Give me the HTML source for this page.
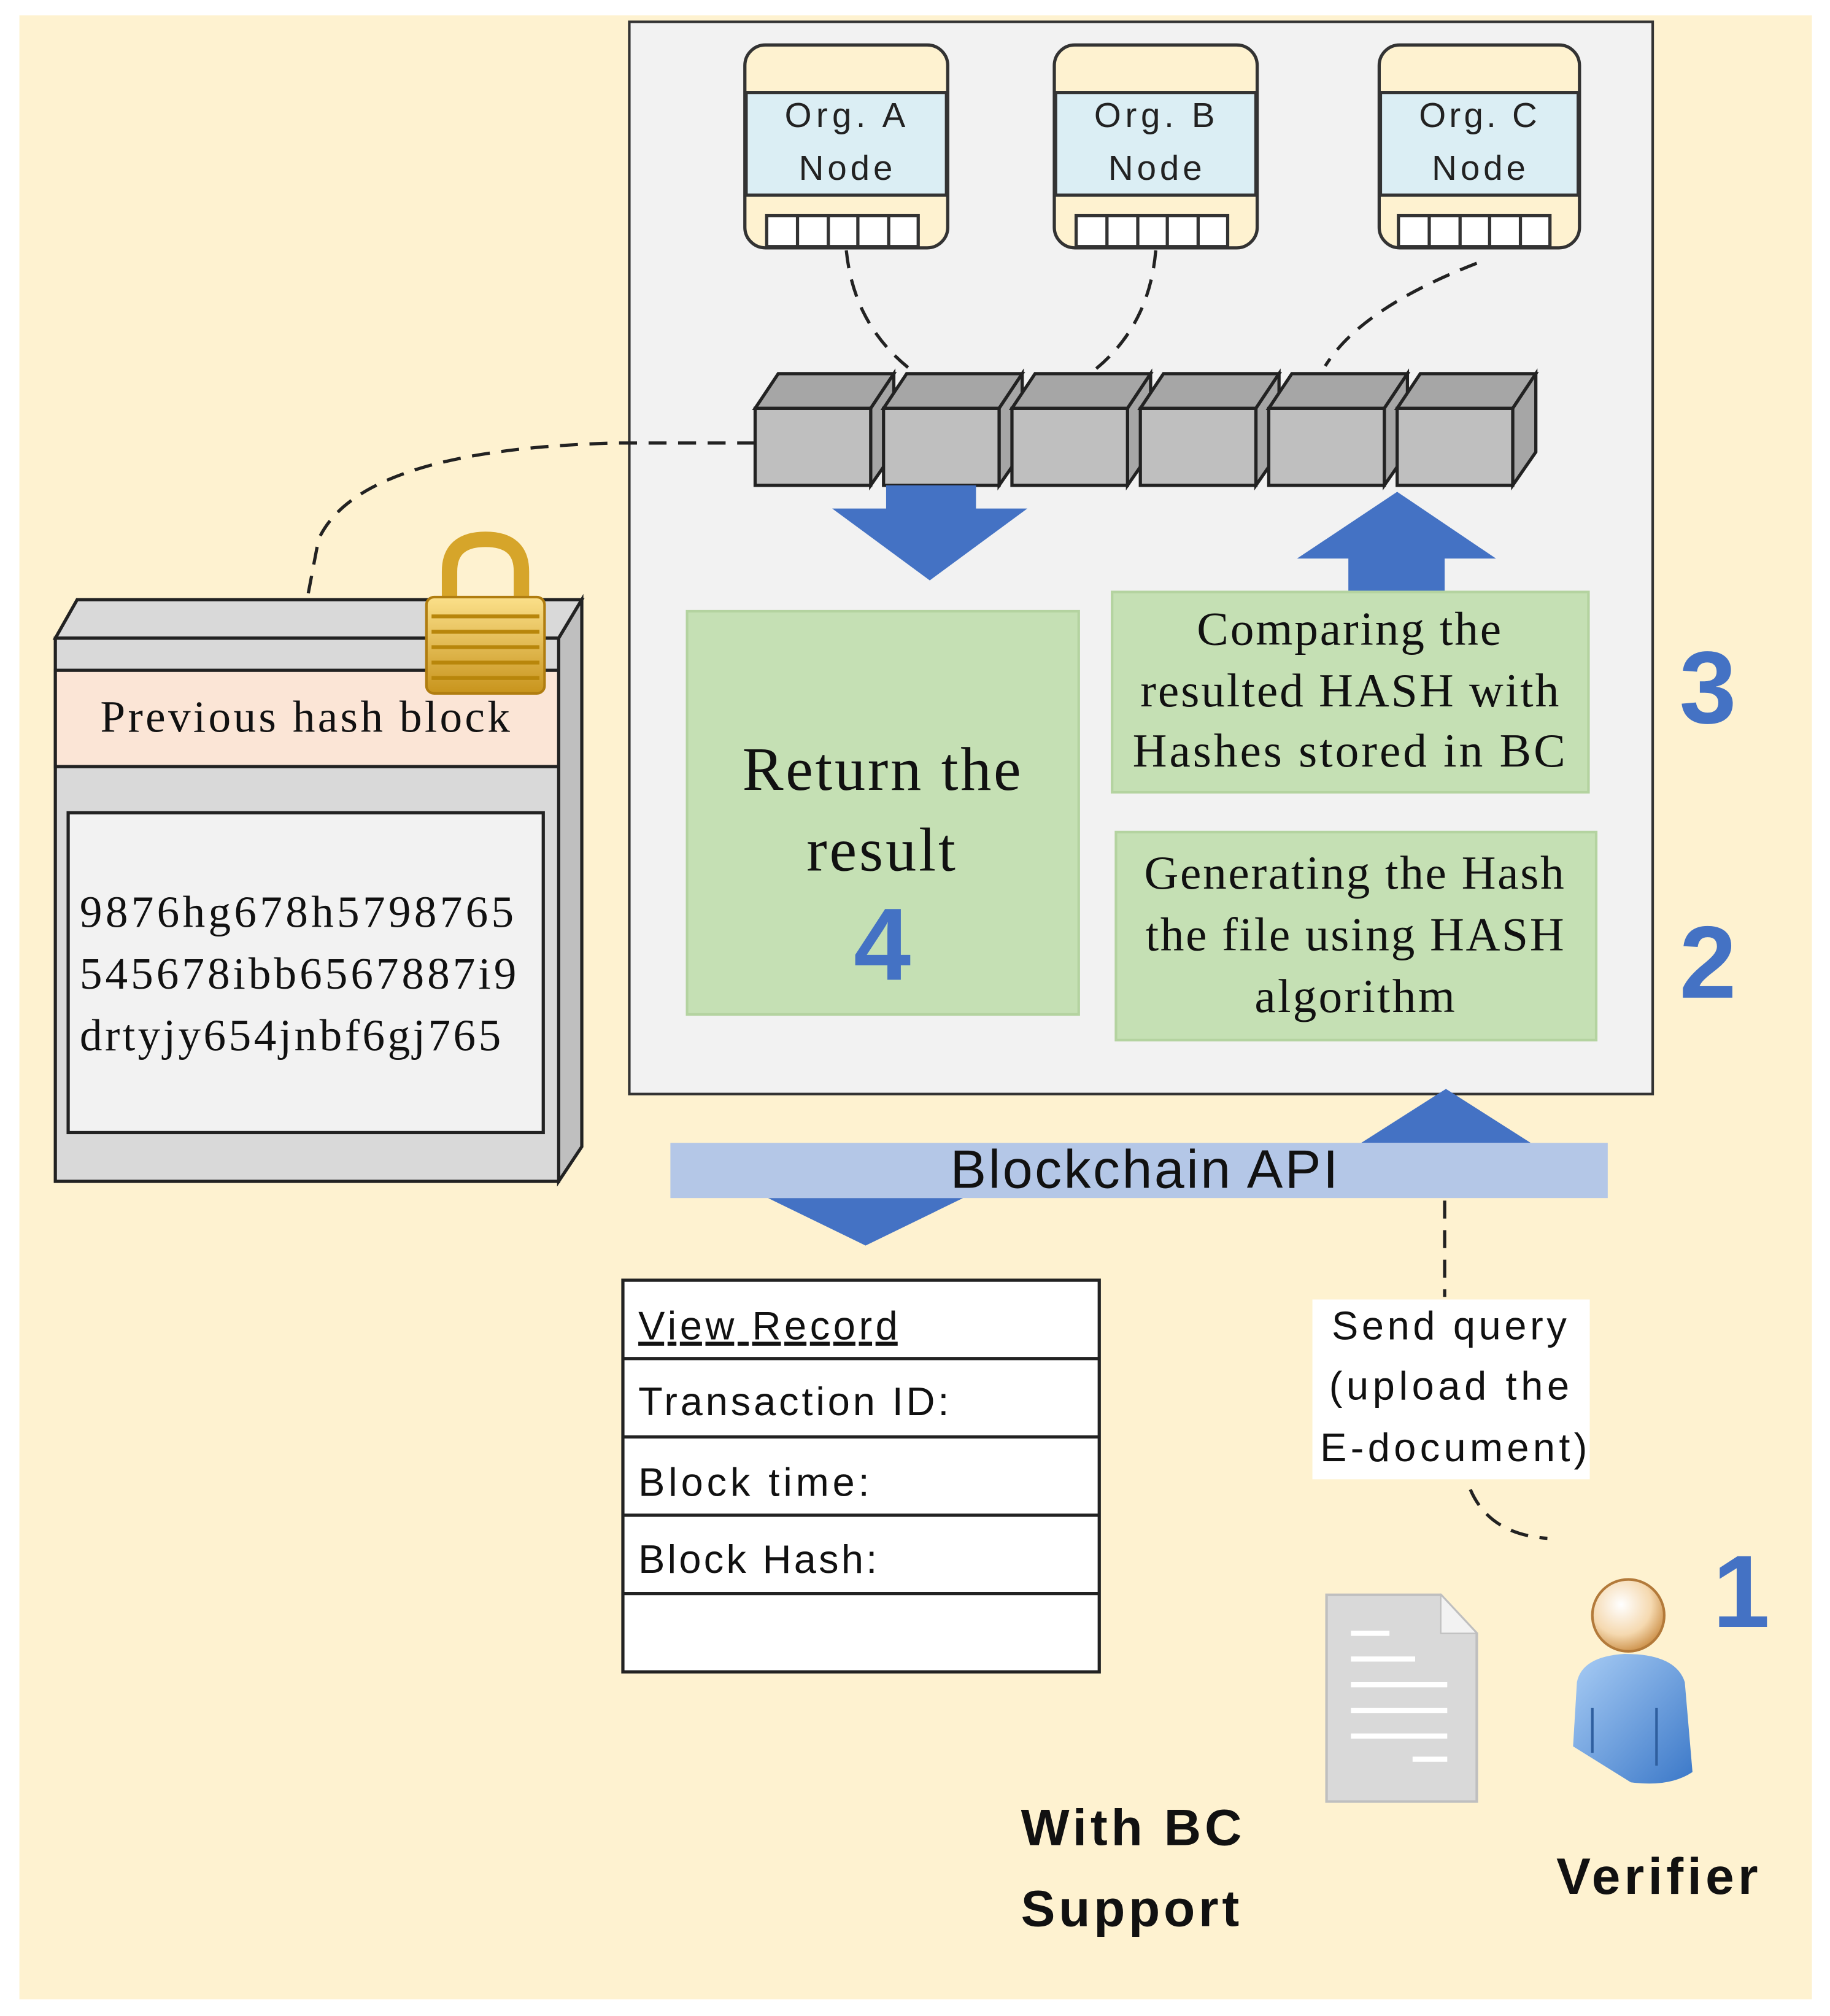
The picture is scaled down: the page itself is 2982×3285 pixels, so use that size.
<!DOCTYPE html>
<html><head><meta charset="utf-8"><style>
html,body{margin:0;padding:0;background:#fff;}
svg{display:block;}
text{font-family:"Liberation Sans",sans-serif;}
.serif{font-family:"Liberation Serif",serif;}
</style></head><body>
<svg width="2982" height="3285" viewBox="0 0 1425 1570" xmlns="http://www.w3.org/2000/svg">
<rect x="0" y="0" width="1425" height="1570" fill="#fff"/>
<rect x="15" y="12" width="1396" height="1545" fill="#fef2d0"/>

<rect x="490" y="17" width="797" height="835" fill="#f2f2f2" stroke="#333" stroke-width="2"/>

<g stroke="#333" stroke-width="2.5">
 <g>
  <rect x="580" y="35" width="158" height="158" rx="16" fill="#fef2d0"/>
  <rect x="581" y="72" width="156" height="80" fill="#dbeef4"/>
  <rect x="597" y="168" width="118" height="24" fill="#fff"/>
  <path d="M621 168v24M645 168v24M668 168v24M692 168v24" fill="none"/>
 </g>
 <g transform="translate(241,0)">
  <rect x="580" y="35" width="158" height="158" rx="16" fill="#fef2d0"/>
  <rect x="581" y="72" width="156" height="80" fill="#dbeef4"/>
  <rect x="597" y="168" width="118" height="24" fill="#fff"/>
  <path d="M621 168v24M645 168v24M668 168v24M692 168v24" fill="none"/>
 </g>
 <g transform="translate(494,0)">
  <rect x="580" y="35" width="156" height="158" rx="16" fill="#fef2d0"/>
  <rect x="581" y="72" width="154" height="80" fill="#dbeef4"/>
  <rect x="595" y="168" width="118" height="24" fill="#fff"/>
  <path d="M619 168v24M643 168v24M666 168v24M690 168v24" fill="none"/>
 </g>
</g>
<g font-size="27" fill="#222">
 <text x="611" y="99" textLength="94">Org.  A</text><text x="622" y="140" textLength="73">Node</text>
 <text x="852" y="99" textLength="94">Org.  B</text><text x="863" y="140" textLength="73">Node</text>
 <text x="1105" y="99" textLength="92">Org.  C</text><text x="1115" y="140" textLength="73">Node</text>
</g>

<g fill="none" stroke="#222" stroke-width="2.5" stroke-dasharray="14,9">
 <path d="M659 195 Q665 255 712 290"/>
 <path d="M900 195 Q895 255 850 290"/>
 <path d="M1150 205 Q1060 240 1032 285"/>
 <path d="M588 345 L480 345 Q280 350 248 420 L240 462"/>
 <path d="M1125 935 L1125 1010"/>
 <path d="M1145 1160 Q1160 1195 1205 1198"/>
</g>

<g stroke="#222" stroke-width="2.5" fill="#bfbfbf">
 <g id="cube">
  <polygon points="588,318 606,291 696,291 678,318" fill="#a6a6a6"/>
  <polygon points="678,318 696,291 696,352 678,378" fill="#a6a6a6"/>
  <rect x="588" y="318" width="90" height="60"/>
 </g>
 <use href="#cube" x="100"/>
 <use href="#cube" x="200"/>
 <use href="#cube" x="300"/>
 <use href="#cube" x="400"/>
 <use href="#cube" x="500"/>
</g>

<g fill="#4472c4">
 <polygon points="690,378 760,378 760,396 800,396 724,452 648,396 690,396"/>
 <polygon points="1050,460 1125,460 1125,435 1165,435 1088,383 1010,435 1050,435"/>
 <polygon points="1060,890 1192,890 1126,848"/>
 <polygon points="598,933 750,933 674,970"/>
</g>

<g fill="#c5e0b4" stroke="#b4d3a0" stroke-width="2">
 <rect x="535" y="476" width="305" height="314"/>
 <rect x="866" y="461" width="371" height="156"/>
 <rect x="869" y="648" width="374" height="162"/>
</g>
<g fill="#111">
 <text x="578" y="615" font-size="48" class="serif" textLength="217">Return the</text>
 <text x="628" y="678" font-size="48" class="serif" textLength="116">result</text>
 <text x="932" y="502" font-size="37" class="serif" textLength="237">Comparing the</text>
 <text x="888" y="550" font-size="37" class="serif" textLength="326">resulted HASH with</text>
 <text x="882" y="597" font-size="37" class="serif" textLength="337">Hashes stored  in BC</text>
 <text x="891" y="692" font-size="37" class="serif" textLength="327">Generating the Hash</text>
 <text x="892" y="740" font-size="37" class="serif" textLength="326">the file using HASH</text>
 <text x="977" y="788" font-size="37" class="serif" textLength="156">algorithm</text>
</g>
<g fill="#4472c4" font-weight="bold" font-size="80" text-anchor="middle">
 <text x="687" y="763">4</text>
 <text x="1330" y="563">3</text>
 <text x="1330" y="777">2</text>
 <text x="1356" y="1267">1</text>
</g>

<rect x="522" y="890" width="730" height="43" fill="#b4c7e7"/>
<text x="740" y="925" font-size="42" fill="#111" textLength="302">Blockchain API</text>

<g stroke="#222" stroke-width="2.5" fill="#fff">
 <rect x="485" y="997" width="371" height="305"/>
 <path d="M485 1058h371M485 1119h371M485 1180h371M485 1241h371" fill="none"/>
</g>
<g font-size="31" fill="#111">
 <text x="497" y="1043" text-decoration="underline" textLength="202">View Record</text>
 <text x="497" y="1102" textLength="242">Transaction ID:</text>
 <text x="497" y="1165" textLength="180">Block time:</text>
 <text x="497" y="1225" textLength="186">Block Hash:</text>
</g>

<rect x="1022" y="1012" width="216" height="140" fill="#fff"/>
<g font-size="31" fill="#111">
 <text x="1037" y="1043" textLength="183">Send query</text>
 <text x="1035" y="1090" textLength="187">(upload the</text>
 <text x="1028" y="1138" textLength="208">E-document)</text>
</g>

<polygon points="1033,1242 1122,1242 1150,1272 1150,1403 1033,1403" fill="#d9d9d9" stroke="#bfbfbf" stroke-width="2"/>
<polygon points="1122,1242 1122,1272 1150,1272" fill="#f2f2f2" stroke="#bfbfbf" stroke-width="1"/>
<g stroke="#fff" stroke-width="4">
 <path d="M1052 1272h30M1052 1292h50M1052 1312h75M1052 1332h75M1052 1352h75M1100 1370h27"/>
</g>

<defs>
 <radialGradient id="hd" cx="0.4" cy="0.35" r="0.7"><stop offset="0" stop-color="#fff"/><stop offset="0.6" stop-color="#f5d9b0"/><stop offset="1" stop-color="#c98a40"/></radialGradient>
 <linearGradient id="bd" x1="0" y1="0" x2="1" y2="1"><stop offset="0" stop-color="#a9cdf5"/><stop offset="1" stop-color="#3b78c8"/></linearGradient>
 <linearGradient id="lk" x1="0" y1="0" x2="0" y2="1"><stop offset="0" stop-color="#fbe08a"/><stop offset="1" stop-color="#c8941c"/></linearGradient>
</defs>
<path d="M1228 1310 Q1232 1290 1265 1288 Q1305 1288 1312 1310 L1318 1380 Q1300 1392 1270 1388 L1225 1360 Z" fill="url(#bd)"/>
<path d="M1240 1330v35M1290 1330v45" stroke="#2f5f9f" stroke-width="2"/>
<circle cx="1268" cy="1258" r="28" fill="url(#hd)" stroke="#b37a3a" stroke-width="2"/>

<g font-weight="bold" font-size="40" fill="#111">
 <text x="795" y="1437" textLength="172">With BC</text>
 <text x="795" y="1500" textLength="170">Support</text>
 <text x="1212" y="1475" textLength="157">Verifier</text>
</g>

<g stroke="#222" stroke-width="2.5">
 <polygon points="43,497 60,467 453,467 435,497" fill="#d9d9d9"/>
 <polygon points="435,497 453,467 453,893 435,920" fill="#bfbfbf"/>
 <rect x="43" y="497" width="392" height="423" fill="#d9d9d9"/>
 <rect x="43" y="522" width="392" height="75" fill="#fbe5d6"/>
 <rect x="53" y="633" width="370" height="249" fill="#f2f2f2"/>
</g>
<text x="78" y="570" font-size="35" class="serif" fill="#111" textLength="319">Previous hash block</text>
<g font-size="35" fill="#111">
 <text x="62" y="722" class="serif" textLength="338">9876hg678h5798765</text>
 <text x="62" y="770" class="serif" textLength="340">545678ibb6567887i9</text>
 <text x="62" y="818" class="serif" textLength="328">drtyjy654jnbf6gj765</text>
</g>

<path d="M350 470 L350 445 Q350 420 378 420 Q406 420 406 445 L406 470" fill="none" stroke="#d6a52a" stroke-width="12"/>
<rect x="332" y="465" width="92" height="75" rx="6" fill="url(#lk)" stroke="#b07d10" stroke-width="2"/>
<g stroke="#b8860b" stroke-width="3"><path d="M336 480h84M336 492h84M336 504h84M336 516h84M336 528h84"/></g>
</svg>
</body></html>
